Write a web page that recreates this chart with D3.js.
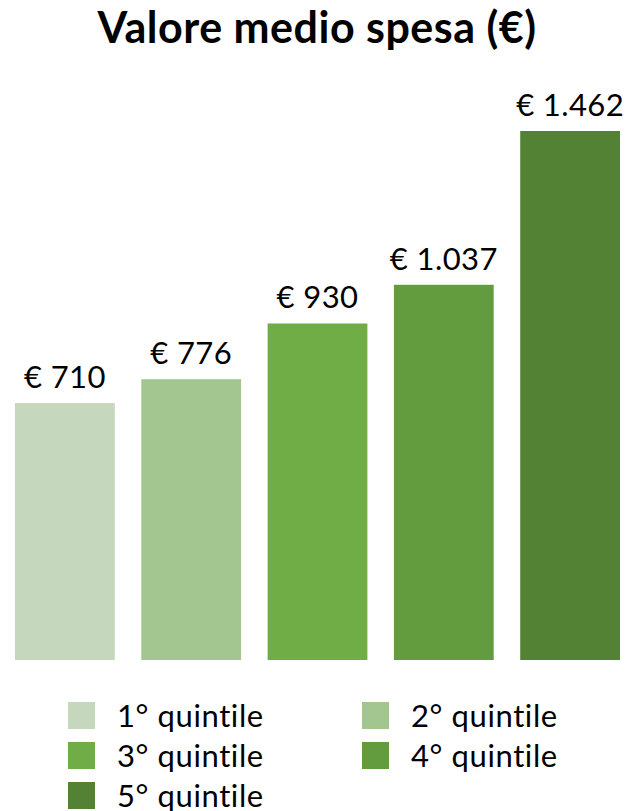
<!DOCTYPE html>
<html>
<head>
<meta charset="utf-8">
<script src="https://cdn.jsdelivr.net/npm/d3@7"></script>
<style>
  body { margin: 0; background: #fff; }
  text { font-family: Lato, "Open Sans", sans-serif; fill: #000; }
  .title { font-weight: bold; font-size: 43px; letter-spacing: 0.5px; }
  .lbl { font-size: 31px; letter-spacing: 0.4px; }
  .leg { font-size: 31px; letter-spacing: 0.6px; }
</style>
</head>
<body>
<svg id="chart" width="626" height="811"></svg>
<script>
// Data
const categories = ['1° quintile', '2° quintile', '3° quintile', '4° quintile', '5° quintile']
const values = [710, 776, 930, 1037, 1462]
const colors = ['#c5d8bd', '#a3c690', '#70ad47', '#639c3f', '#548235']

const W = 626, H = 811
const svg = d3.select('#chart')

const it = d3.formatLocale({decimal: ',', thousands: '.', grouping: [3], currency: ['€ ', '']})
const fmt = it.format('$,.0f')

const x = d3.scaleBand().domain(categories).range([15, 620]).paddingInner(0.21).paddingOuter(0)
const y = d3.scaleLinear().domain([0, d3.max(values)]).range([660, 131])

const data = categories.map((c, i) => ({cat: c, val: values[i], col: colors[i]}))

/* Title */
svg.append('text')
    .attr('class', 'title')
    .attr('x', W / 2 + 4).attr('y', 43)
    .attr('text-anchor', 'middle')
    .text('Valore medio spesa (€)')

/* Bars */
svg.selectAll('.bar').data(data).enter()
    .append('rect')
    .attr('class', 'bar')
    .attr('x', d => x(d.cat))
    .attr('width', x.bandwidth())
    .attr('y', d => y(d.val))
    .attr('height', d => y(0) - y(d.val))
    .attr('fill', d => d.col)

/* Value labels */
svg.selectAll('.lbl').data(data).enter()
    .append('text')
    .attr('class', 'lbl')
    .attr('x', d => x(d.cat) + x.bandwidth() / 2)
    .attr('y', d => y(d.val) - 15)
    .attr('text-anchor', 'middle')
    .text(d => fmt(d.val))

/* Legend: two columns */
const legX = [68, 362], legY = [702, 742, 782]
const leg = svg.selectAll('.leg-item').data(data).enter()
    .append('g')
    .attr('class', 'leg-item')
    .attr('transform', (d, i) => `translate(${legX[i % 2]},${legY[Math.floor(i / 2)]})`)
leg.append('rect')
    .attr('width', 27).attr('height', 27)
    .attr('fill', d => d.col)
leg.append('text')
    .attr('class', 'leg')
    .attr('x', 49).attr('y', 25)
    .text(d => d.cat)
</script>
</body>
</html>
